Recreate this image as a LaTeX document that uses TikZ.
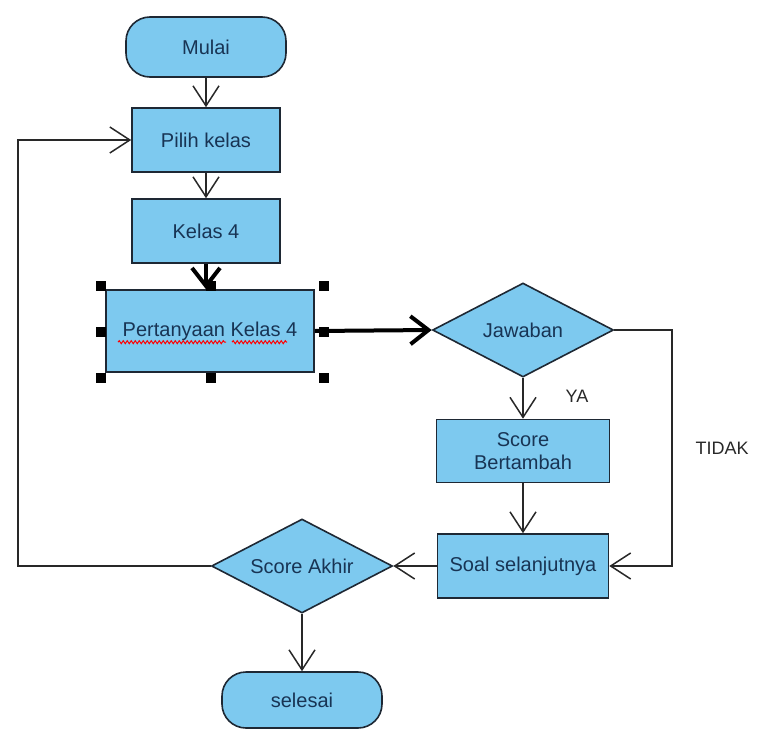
\documentclass[tikz,border=0pt]{standalone}
\usepackage{fontspec}
\setmainfont{Liberation Sans}
\usetikzlibrary{arrows.meta,shapes.geometric,decorations.pathmorphing}
\definecolor{boxfill}{RGB}{125,201,239}
\definecolor{boxline}{RGB}{30,40,52}
\definecolor{boxtext}{RGB}{24,52,84}
\definecolor{wire}{RGB}{40,40,40}
\begin{document}
\begin{tikzpicture}[x=1pt, y=-1pt,
    font=\fontsize{20}{23}\selectfont,
    base/.style={draw=boxline, line width=1.6pt, fill=boxfill, text=boxtext, inner sep=2pt, align=center},
    proses/.style={base, rectangle, minimum width=148pt, minimum height=64pt},
    terminal/.style={base, rectangle, rounded corners=24pt, minimum width=160pt, minimum height=60pt},
    putusan/.style={base, diamond, aspect=2, minimum width=181pt, minimum height=94pt, inner sep=0pt},
    alir/.style={draw=wire, line width=1.5pt, -{Straight Barb[length=20pt,width=26pt]}},
    tebal/.style={draw=black, line width=4pt, -{Straight Barb[length=18pt,width=28pt]}},
    pegangan/.style={fill=black, minimum size=10pt, inner sep=0pt},
    ket/.style={text=wire, font=\fontsize{18}{20}\selectfont}]
    \path[use as bounding box] (0,0) rectangle (760,731);
    \node[terminal] (Mulai)   at (206,47)  {Mulai};
    \node[proses] (Pilih)     at (206,140) {Pilih kelas};
    \node[proses] (Kelas)     at (206,231) {Kelas 4};
    \node[proses, minimum width=208pt, minimum height=82pt] (Tanya) at (210,331) {Pertanyaan Kelas 4};
    \node[putusan] (Jawab)    at (523,330) {Jawaban};
    \node[proses, minimum width=173pt, minimum height=63pt] (Tambah) at (523,451) {Score\\Bertambah};
    \node[proses, minimum width=171pt] (Soal) at (523,566) {Soal selanjutnya};
    \node[putusan] (Akhir)    at (302,566) {Score Akhir};
    \node[terminal, minimum height=56pt] (Selesai) at (302,700) {selesai};
    \node[ket] (YA)    at (577,396) {YA};
    \node[ket] (TIDAK) at (722,448) {TIDAK};
    \coordinate (Belok) at (672,330);
    \coordinate (Balik) at (18,566);

    % spelling marks under the question text
    \draw[red, line width=1pt, decorate, decoration={snake, amplitude=1.5pt, segment length=4pt}]
        ([shift={(-92,6)}]Tanya.base) -- ++(108,0);
    \draw[red, line width=1pt, decorate, decoration={snake, amplitude=1.5pt, segment length=4pt}]
        ([shift={(22,6)}]Tanya.base) -- ++(55,0);

    \draw[alir] (Mulai) -- (Pilih);
    \draw[alir] (Pilih) -- (Kelas);
    \draw[tebal] (Kelas.south) -- (Kelas.south |- Tanya.north);
    \draw[tebal] (Tanya.east) -- (Jawab.west);
    \draw[alir] (Jawab.south) -- (Tambah.north);
    \draw[alir] (Tambah) -- (Soal);
    \draw[alir] (Jawab.east) -- (Belok) |- (Soal.east);
    \draw[alir] (Soal.west) -- (Akhir.east);
    % loop back to the class choice
    \draw[alir] (Akhir.west) -- (Balik) |- (Pilih.west);
    \draw[alir] (Akhir.south) -- (Selesai.north);

    % selection handles
    \foreach \pos/\dx/\dy [count=\i] in {north west/-4/-3, north/1/-3, north east/9/-3, west/-4/1,
        east/9/1, south west/-4/5, south/1/5, south east/9/5}
        \node[pegangan] (H\i) at ([shift={(\dx,\dy)}]Tanya.\pos) {};

    \end{tikzpicture}
\end{document}
